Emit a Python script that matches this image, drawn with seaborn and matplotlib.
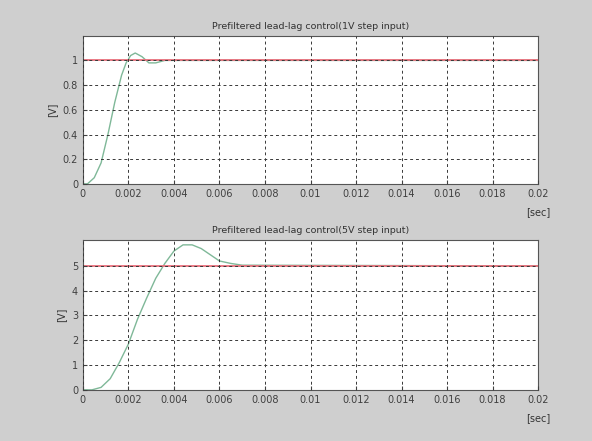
import matplotlib
matplotlib.use("Agg")
import matplotlib.pyplot as plt
import seaborn as sns
import numpy as np
import pandas as pd

# step response, 1V input
t_1v = [0, 0.0002, 0.0005, 0.0008, 0.0011, 0.0014, 0.0017, 0.0019, 0.0021,
        0.0023, 0.0026, 0.0029, 0.0032, 0.0036, 0.004, 0.02]
v_1v = [0, 0, 0.05, 0.17, 0.4, 0.66, 0.88, 0.98, 1.04,
        1.06, 1.03, 0.98, 0.98, 1.0, 1.0, 1.0]

# step response, 5V input
t_5v = [0, 0.0004, 0.0008, 0.0012, 0.0016, 0.002, 0.0024, 0.0028, 0.0032,
        0.0036, 0.004, 0.0044, 0.0048, 0.0052, 0.0056, 0.006, 0.0065, 0.007, 0.02]
v_5v = [0, 0, 0.1, 0.45, 1.1, 1.85, 2.85, 3.7, 4.5,
        5.1, 5.6, 5.85, 5.85, 5.7, 5.45, 5.2, 5.1, 5.03, 5.0]

ref_t = [0, 0.02]
ref_1v = [1, 1]
ref_5v = [5, 5]

titles = ["Prefiltered lead-lag control(1V step input)",
          "Prefiltered lead-lag control(5V step input)"]
x_ticks = [0, 0.002, 0.004, 0.006, 0.008, 0.01, 0.012, 0.014, 0.016, 0.018, 0.02]
x_labels = ["0", "0.002", "0.004", "0.006", "0.008", "0.01", "0.012",
            "0.014", "0.016", "0.018", "0.02"]
y_ticks_1v = [0, 0.2, 0.4, 0.6, 0.8, 1]
y_labels_1v = ["0", "0.2", "0.4", "0.6", "0.8", "1"]
y_ticks_5v = [0, 1, 2, 3, 4, 5]
y_labels_5v = ["0", "1", "2", "3", "4", "5"]

bg = "#cfcfcf"
fig = plt.figure(figsize=(5.92, 4.41), dpi=100, facecolor=bg)
ax1 = fig.add_axes([0.140, 0.583, 0.769, 0.336])
ax2 = fig.add_axes([0.140, 0.116, 0.769, 0.340])

panels = [
    (ax1, t_1v, v_1v, ref_1v, (0, 1.2), y_ticks_1v, y_labels_1v, titles[0]),
    (ax2, t_5v, v_5v, ref_5v, (0, 6.05), y_ticks_5v, y_labels_5v, titles[1]),
]

for ax, t, v, ref, ylim, yt, yl, title in panels:
    df = pd.DataFrame({"t": t, "v": v})
    dref = pd.DataFrame({"t": ref_t, "v": ref})
    sns.lineplot(data=df, x="t", y="v", ax=ax, color="#7fb898", lw=1.0)
    sns.lineplot(data=dref, x="t", y="v", ax=ax, color="#e8707c", lw=1.3)
    ax.set_xlim(0, 0.02)
    ax.set_ylim(*ylim)
    ax.set_xticks(x_ticks)
    ax.set_xticklabels(x_labels)
    ax.set_yticks(yt)
    ax.set_yticklabels(yl)
    ax.grid(True, color="#383838", linestyle=(0, (3, 3)), lw=0.7)
    ax.set_axisbelow(False)
    ax.tick_params(direction="in", labelsize=7, colors="#404040", length=3)
    for s in ax.spines.values():
        s.set_color("#555555")
    ax.set_title(title, fontsize=6.8, color="#333333", pad=5)
    ax.set_xlabel("")
    ax.set_ylabel("[V]", fontsize=7, color="#333333", labelpad=4)
    ax.text(1.0, -0.19, "[sec]", transform=ax.transAxes, fontsize=7,
            color="#333333", ha="center", va="center")

fig.savefig("out.png", dpi=100, facecolor=bg)
